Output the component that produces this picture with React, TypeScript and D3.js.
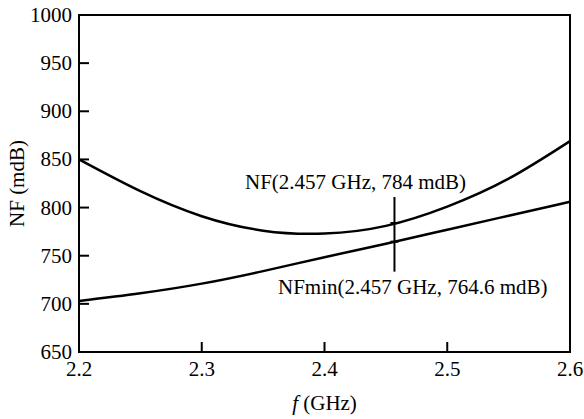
import React, { useEffect, useRef } from "react";
import * as d3 from "d3";

// frequency in GHz
const freq = [2.2, 2.25, 2.3, 2.35, 2.4, 2.45, 2.5, 2.55, 2.6];
// noise figure, mdB
const nfValues = [850, 817, 791, 776, 773, 781, 801, 830, 869];
const nfMinValues = [703, 711, 721, 734, 748.5, 762.5, 777, 791.5, 806];

const xTicks = [2.2, 2.3, 2.4, 2.5, 2.6];
const yTicks = [650, 700, 750, 800, 850, 900, 950, 1000];

const markerF = 2.457;
const markerNF = 784;
const markerNFmin = 764.6;

const App = () => {
  const ref = useRef<SVGSVGElement>(null);

  useEffect(() => {
    const svg = d3.select(ref.current);
    svg.selectAll("*").remove();

    const left = 79,
      right = 570,
      top = 15,
      bottom = 352;

    const x = d3.scaleLinear().domain([2.2, 2.6]).range([left, right]);
    const y = d3.scaleLinear().domain([650, 1000]).range([bottom, top]);

    // frame
    svg
      .append("rect")
      .attr("x", left)
      .attr("y", top)
      .attr("width", right - left)
      .attr("height", bottom - top)
      .attr("fill", "none")
      .attr("stroke", "#000")
      .attr("stroke-width", 2);

    // inward ticks
    svg
      .selectAll(".xtick")
      .data(xTicks.slice(1, -1))
      .join("line")
      .attr("x1", (d) => x(d))
      .attr("x2", (d) => x(d))
      .attr("y1", bottom)
      .attr("y2", bottom - 10)
      .attr("stroke", "#000")
      .attr("stroke-width", 2);

    svg
      .selectAll(".ytick")
      .data(yTicks.slice(1, -1))
      .join("line")
      .attr("x1", left)
      .attr("x2", left + 10)
      .attr("y1", (d) => y(d))
      .attr("y2", (d) => y(d))
      .attr("stroke", "#000")
      .attr("stroke-width", 2);

    const g = svg
      .append("g")
      .attr("font-family", "Liberation Serif")
      .attr("font-size", 21);

    g.selectAll(".xlabel")
      .data(xTicks)
      .join("text")
      .attr("x", (d) => x(d))
      .attr("y", bottom + 24)
      .attr("text-anchor", "middle")
      .text((d) => d3.format(".1f")(d));

    g.selectAll(".ylabel")
      .data(yTicks)
      .join("text")
      .attr("x", left - 7)
      .attr("y", (d) => y(d) + 7)
      .attr("text-anchor", "end")
      .text((d) => d);

    // axis titles
    const xt = g
      .append("text")
      .attr("x", (left + right) / 2)
      .attr("y", 410)
      .attr("text-anchor", "middle");
    xt.append("tspan").attr("font-style", "italic").text("f");
    xt.append("tspan").text(" (GHz)");

    g.append("text")
      .attr("transform", `translate(24, ${(top + bottom) / 2}) rotate(-90)`)
      .attr("text-anchor", "middle")
      .text("NF (mdB)");

    // curves
    const line = d3
      .line<number>()
      .x((_, i) => x(freq[i]))
      .y((d) => y(d))
      .curve(d3.curveNatural);

    [nfValues, nfMinValues].forEach((vals) => {
      svg
        .append("path")
        .attr("d", line(vals))
        .attr("fill", "none")
        .attr("stroke", "#000")
        .attr("stroke-width", 2.5);
    });

    // marker
    const mx = x(markerF);
    svg
      .append("line")
      .attr("x1", mx)
      .attr("x2", mx)
      .attr("y1", y(markerNF) - 26)
      .attr("y2", y(markerNFmin) + 30)
      .attr("stroke", "#000")
      .attr("stroke-width", 2);
    [markerNF, markerNFmin].forEach((v) => {
      svg
        .append("line")
        .attr("x1", mx - 4)
        .attr("x2", mx + 4)
        .attr("y1", y(v))
        .attr("y2", y(v))
        .attr("stroke", "#000")
        .attr("stroke-width", 2);
    });

    g.append("text")
      .attr("x", 245)
      .attr("y", 189)
      .text(`NF(${markerF} GHz, ${markerNF} mdB)`);

    g.append("text")
      .attr("x", 278)
      .attr("y", 294)
      .text(`NFmin(${markerF} GHz, ${markerNFmin} mdB)`);
  }, []);

  return (
    <svg
      ref={ref}
      width={584}
      height={419}
      style={{ position: "absolute", left: 0, top: 0, background: "#fff" }}
    />
  );
};

export default App;
